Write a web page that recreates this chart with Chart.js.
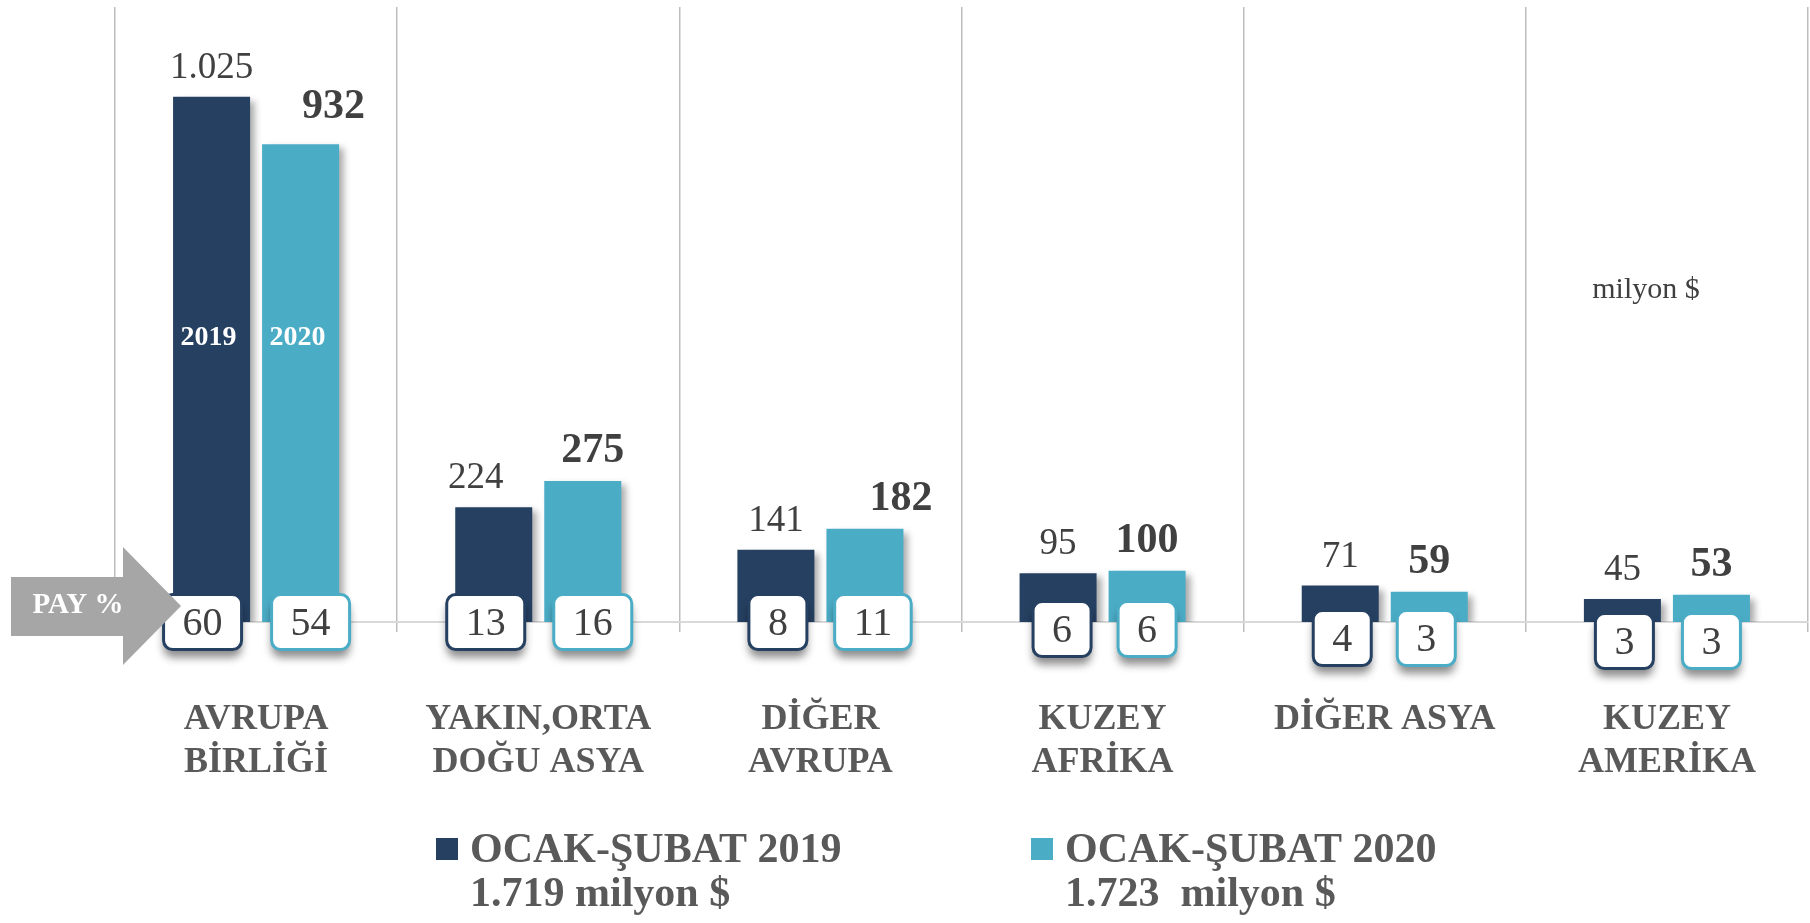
<!DOCTYPE html>
<html lang="tr">
<head>
<meta charset="utf-8">
<title>Bölgelere göre ihracat</title>
<script src="https://cdn.jsdelivr.net/npm/chart.js@4.4.1/dist/chart.umd.min.js"></script>
<style>
  html, body { margin: 0; padding: 0; background: #fff; }
  #wrap { width: 1810px; height: 923px; }
</style>
</head>
<body>
<div id="wrap"><canvas id="exportChart" width="1810" height="923"></canvas></div>
<script>
const regions = [['AVRUPA', 'BİRLİĞİ'], ['YAKIN,ORTA', 'DOĞU ASYA'], ['DİĞER', 'AVRUPA'], ['KUZEY', 'AFRİKA'], 'DİĞER ASYA', ['KUZEY', 'AMERİKA']];
const exports2019 = [1025, 224, 141, 95, 71, 45];
const exports2020 = [932, 275, 182, 100, 59, 53];
const share2019 = [60, 13, 8, 6, 4, 3];
const share2020 = [54, 16, 11, 6, 3, 3];
const seriesNames = ['OCAK-ŞUBAT 2019', 'OCAK-ŞUBAT 2020'];
const seriesYears = ['2019', '2020'];
const seriesTotals = [1719, 1723];
const unitLabel = 'milyon $';

const NAVY = '#254061';
const TEAL = '#4bacc6';
const SERIF = '"Liberation Serif", "Times New Roman", serif';

// hand nudges for labels, as placed in the original
const valueShiftX = [[0, -18, 0, 0, 0, 0], [33, 10, 36, 0, 0, 0]];
const boxShiftX = [[-9, -8, 2, 4, 2, 2], [10, 10, 8, 0, -3, 0]];
const boxShiftY = [0, 0, 0, 7, 16, 19];

function trNumber(n) {
    return String(n).replace(/\B(?=(\d{3})+(?!\d))/g, '.');
}

function roundBox(ctx, x, y, w, h, r) {
    ctx.beginPath();
    ctx.moveTo(x + r, y);
    ctx.arcTo(x + w, y, x + w, y + h, r);
    ctx.arcTo(x + w, y + h, x, y + h, r);
    ctx.arcTo(x, y + h, x, y, r);
    ctx.arcTo(x, y, x + w, y, r);
    ctx.closePath();
}

const decorations = {
    id: 'decorations',
    beforeDatasetsDraw(chart) {
        const ctx = chart.ctx;
        ctx.save();
        ctx.shadowColor = 'rgba(0, 0, 0, 0.35)';
        ctx.shadowBlur = 7;
        ctx.shadowOffsetX = 5;
        ctx.shadowOffsetY = 4;
    },
    afterDatasetsDraw(chart) {
        const ctx = chart.ctx;
        ctx.restore();
        const base = chart.scales.y.getPixelForValue(0);
        const shares = [share2019, share2020];
        const colors = [NAVY, TEAL];

        chart.data.datasets.forEach((ds, di) => {
            const meta = chart.getDatasetMeta(di);
            meta.data.forEach((bar, i) => {
                // value above the bar
                ctx.save();
                ctx.fillStyle = '#404040';
                ctx.textAlign = 'center';
                ctx.textBaseline = 'alphabetic';
                ctx.font = di === 0 ? '37px ' + SERIF : 'bold 42px ' + SERIF;
                const gap = (di === 1 && i === 0) ? 26 : 19;
                ctx.fillText(trNumber(ds.data[i]), bar.x + valueShiftX[di][i], bar.y - gap);
                ctx.restore();

                // share box
                ctx.save();
                ctx.font = '40px ' + SERIF;
                const txt = String(shares[di][i]);
                const w = ctx.measureText(txt).width + 38;
                const h = 55;
                const cx = bar.x + boxShiftX[di][i];
                const cy = base + boxShiftY[i];
                ctx.shadowColor = 'rgba(0, 0, 0, 0.45)';
                ctx.shadowBlur = 8;
                ctx.shadowOffsetY = 8;
                roundBox(ctx, cx - w / 2, cy - h / 2, w, h, 9);
                ctx.fillStyle = '#fff';
                ctx.fill();
                ctx.restore();

                ctx.save();
                roundBox(ctx, cx - w / 2, cy - h / 2, w, h, 9);
                ctx.lineWidth = 3;
                ctx.strokeStyle = colors[di];
                ctx.stroke();
                ctx.font = '40px ' + SERIF;
                ctx.fillStyle = '#404040';
                ctx.textAlign = 'center';
                ctx.textBaseline = 'middle';
                ctx.fillText(txt, cx, cy + 2);
                ctx.restore();

                // year inside the first pair of bars
                if (i === 0) {
                    ctx.save();
                    ctx.font = 'bold 28px ' + SERIF;
                    ctx.fillStyle = '#fff';
                    ctx.textAlign = 'center';
                    ctx.textBaseline = 'middle';
                    ctx.fillText(seriesYears[di], bar.x - 3, base - 284);
                    ctx.restore();
                }
            });
        });

        // PAY % arrow
        const left = chart.chartArea.left;
        ctx.save();
        ctx.fillStyle = '#a6a6a6';
        ctx.beginPath();
        ctx.moveTo(left - 104, base - 45);
        ctx.lineTo(left + 8, base - 45);
        ctx.lineTo(left + 8, base - 75);
        ctx.lineTo(left + 66, base - 16);
        ctx.lineTo(left + 8, base + 43);
        ctx.lineTo(left + 8, base + 14);
        ctx.lineTo(left - 104, base + 14);
        ctx.closePath();
        ctx.fill();
        ctx.font = 'bold 29px ' + SERIF;
        ctx.fillStyle = '#fff';
        ctx.textAlign = 'center';
        ctx.textBaseline = 'middle';
        ctx.fillText('PAY %', left - 37, base - 16);
        ctx.restore();
    },
    afterDraw(chart) {
        const ctx = chart.ctx;
        const colors = [NAVY, TEAL];
        const legendX = [436, 1031];
        ctx.save();
        // unit note
        ctx.font = '30px ' + SERIF;
        ctx.fillStyle = '#404040';
        ctx.textAlign = 'center';
        ctx.textBaseline = 'alphabetic';
        ctx.fillText(unitLabel, 1646, 298);

        // legend
        ctx.textAlign = 'left';
        seriesNames.forEach((name, k) => {
            const x = legendX[k];
            ctx.fillStyle = colors[k];
            ctx.fillRect(x, 838, 22, 22);
            ctx.fillStyle = '#595959';
            ctx.font = 'bold 42px ' + SERIF;
            ctx.fillText(name, x + 34, 862);
            ctx.fillText(trNumber(seriesTotals[k]) + (k === 1 ? '  ' : ' ') + unitLabel, x + 34, 906);
        });
        ctx.restore();
    }
};

new Chart(document.getElementById('exportChart'), {
    type: 'bar',
    data: {
        labels: regions,
        datasets: [{
            label: seriesNames[0],
            data: exports2019,
            backgroundColor: NAVY,
            categoryPercentage: 0.631,
            barPercentage: 0.865
        }, {
            label: seriesNames[1],
            data: exports2020,
            backgroundColor: TEAL,
            categoryPercentage: 0.631,
            barPercentage: 0.865
        }]
    },
    options: {
        responsive: false,
        animation: false,
        layout: {
            padding: { left: 115, right: 2, top: 7, bottom: 0 }
        },
        plugins: {
            legend: { display: false },
            tooltip: { enabled: false }
        },
        scales: {
            x: {
                grid: { color: '#bdbdbd', lineWidth: 1.5, tickLength: 10, offset: true },
                border: { color: '#d9d9d9', width: 2 },
                ticks: {
                    color: '#595959',
                    font: { family: SERIF, size: 36, weight: 'bold', lineHeight: 1.2 },
                    padding: 66,
                    maxRotation: 0,
                    autoSkip: false
                },
                afterFit(scale) {
                    scale.height = 301;
                    scale.paddingLeft = 0;
                    scale.paddingRight = 0;
                }
            },
            y: {
                display: false,
                min: 0,
                max: 1200
            }
        }
    },
    plugins: [decorations]
});
</script>
</body>
</html>
